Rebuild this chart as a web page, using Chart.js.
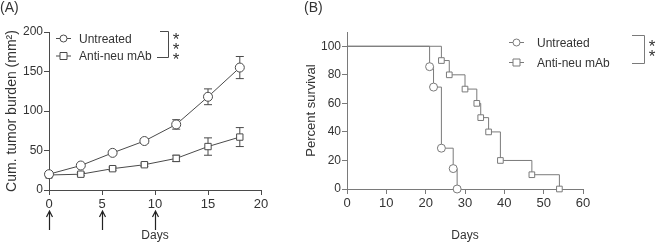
<!DOCTYPE html>
<html>
<head>
<meta charset="utf-8">
<script src="https://cdn.jsdelivr.net/npm/chart.js@4.4.1/dist/chart.umd.min.js"></script>
<style>
  html, body { margin: 0; padding: 0; background: #fff; }
  body { width: 656px; height: 244px; position: relative; overflow: hidden; font-family: "Liberation Sans", Arial, sans-serif; }
  .panel { position: absolute; top: 0; }
  .lbl { position: absolute; top: -1px; font-size: 14px; color: #333; font-family: "Liberation Sans", Arial, sans-serif; }
</style>
</head>
<body>
<div class="panel" style="left:0;width:280px;height:244px;"><canvas id="cA" width="280" height="244"></canvas></div>
<div class="panel" style="left:280px;width:376px;height:244px;"><canvas id="cB" width="376" height="244"></canvas></div>
<div class="lbl" style="left:0px;">(A)</div>
<div class="lbl" style="left:304px;">(B)</div>
<script>
// ---------- Panel A data ----------
const aDays = [0, 3, 6, 9, 12, 15, 18];
const aUntreated = [20, 31, 47, 62, 83, 118, 155];
const aUntreatedErr = [2, 2, 2, 3, 6, 10, 14];
const aAnti = [19, 20, 27, 32, 40, 55, 67];
const aAntiErr = [2, 2, 2, 2, 4, 11, 12];
const aArrowDays = [0, 5, 10];
const aSeriesNames = ['Untreated', 'Anti-neu mAb'];
const aSignif = '***';

// ---------- Panel B data ----------
const bUntreatedDays = [0, 21, 22, 24, 27, 28];
const bUntreatedSurv = [100, 85.7, 71.4, 28.6, 14.3, 0];
const bAntiDays = [0, 24, 26, 30, 33, 34, 36, 39, 47, 54];
const bAntiSurv = [100, 90, 80, 70, 60, 50, 40, 20, 10, 0];
const bSeriesNames = ['Untreated', 'Anti-neu mAb'];
const bSignif = '**';

const FONT = '"Liberation Sans", Arial, sans-serif';
const TXT = '#333';
const LINE_A = '#4a4a4a';
const LINE_B = '#7a7a7a';

function pts(xs, ys) { return xs.map((x, i) => ({ x: x, y: ys[i] })); }

function drawMarker(ctx, style, x, y, r, color) {
  ctx.save();
  ctx.fillStyle = '#fff';
  ctx.strokeStyle = color;
  ctx.lineWidth = 1;
  ctx.beginPath();
  if (style === 'circle') ctx.arc(x, y, r, 0, Math.PI * 2);
  else ctx.rect(x - r, y - r, 2 * r, 2 * r);
  ctx.fill();
  ctx.stroke();
  ctx.restore();
}

function drawStars(ctx, str, x, yCenter, step, color) {
  ctx.save();
  ctx.fillStyle = color;
  ctx.font = '17px ' + FONT;
  ctx.textAlign = 'center';
  ctx.textBaseline = 'alphabetic';
  for (let i = 0; i < str.length; i++) {
    ctx.fillText(str[i], x, yCenter + i * step + 10);
  }
  ctx.restore();
}

const errorBars = {
  id: 'errorBars',
  beforeDatasetsDraw(chart) {
    const ctx = chart.ctx;
    chart.data.datasets.forEach((ds, di) => {
      if (!ds.errors) return;
      const meta = chart.getDatasetMeta(di);
      ctx.save();
      ctx.strokeStyle = ds.borderColor;
      ctx.lineWidth = 1;
      meta.data.forEach((el, i) => {
        const v = ds.data[i].y, e = ds.errors[i];
        const yT = chart.scales.y.getPixelForValue(v + e);
        const yB = chart.scales.y.getPixelForValue(v - e);
        const x = el.x;
        ctx.beginPath();
        ctx.moveTo(x, yT); ctx.lineTo(x, yB);
        ctx.moveTo(x - 4, yT); ctx.lineTo(x + 4, yT);
        ctx.moveTo(x - 4, yB); ctx.lineTo(x + 4, yB);
        ctx.stroke();
      });
      ctx.restore();
    });
  }
};

const extrasA = {
  id: 'extrasA',
  afterDraw(chart) {
    const ctx = chart.ctx;
    const xs = chart.scales.x;
    ctx.save();
    ctx.strokeStyle = '#222';
    ctx.lineWidth = 1.2;
    aArrowDays.forEach(d => {
      const x = Math.round(xs.getPixelForValue(d)) + 0.5;
      ctx.beginPath();
      ctx.moveTo(x, 230); ctx.lineTo(x, 212);
      ctx.moveTo(x - 3, 217); ctx.lineTo(x, 211); ctx.lineTo(x + 3, 217);
      ctx.stroke();
    });
    ctx.font = '12px ' + FONT;
    ctx.fillStyle = TXT;
    ctx.textBaseline = 'middle';
    const rows = [[38.5, 'circle'], [56, 'rect']];
    rows.forEach((r, i) => {
      ctx.strokeStyle = LINE_A;
      ctx.lineWidth = 1;
      ctx.beginPath(); ctx.moveTo(56, r[0]); ctx.lineTo(71, r[0]); ctx.stroke();
      drawMarker(ctx, r[1], 63.5, r[0], 3.5, LINE_A);
      ctx.fillText(aSeriesNames[i], 79, r[0] + 1);
    });
    ctx.strokeStyle = LINE_A;
    ctx.beginPath();
    ctx.moveTo(160, 31.5); ctx.lineTo(168.5, 31.5); ctx.lineTo(168.5, 57.5); ctx.lineTo(157, 57.5);
    ctx.stroke();
    ctx.restore();
    drawStars(ctx, aSignif, 176, 35, 10, TXT);
  }
};

const extrasB = {
  id: 'extrasB',
  afterDraw(chart) {
    const ctx = chart.ctx;
    ctx.save();
    ctx.font = '12px ' + FONT;
    ctx.fillStyle = TXT;
    ctx.textBaseline = 'middle';
    const rows = [[42.5, 'circle'], [62.5, 'rect']];
    rows.forEach((r, i) => {
      ctx.strokeStyle = LINE_B;
      ctx.lineWidth = 1;
      ctx.beginPath(); ctx.moveTo(229, r[0]); ctx.lineTo(244, r[0]); ctx.stroke();
      drawMarker(ctx, r[1], 236.5, r[0], 3.5, LINE_B);
      ctx.fillText(bSeriesNames[i], 257, r[0] + 1);
    });
    ctx.strokeStyle = LINE_B;
    ctx.beginPath();
    ctx.moveTo(352, 35.5); ctx.lineTo(364.5, 35.5); ctx.lineTo(364.5, 63.5); ctx.lineTo(352, 63.5);
    ctx.stroke();
    ctx.restore();
    drawStars(ctx, bSignif, 372, 42, 10, TXT);
  }
};

function axisCommon(color, fontSize) {
  return {
    grid: { display: true, drawOnChartArea: false, drawTicks: true, tickLength: 5, color: color, lineWidth: 1 },
    border: { display: true, color: color, width: 1 },
    ticks: { color: TXT, font: { family: FONT, size: fontSize }, padding: 1 }
  };
}

Chart.defaults.font.family = FONT;
Chart.defaults.animation = false;

// ---------- Chart A ----------
const axA_x = axisCommon(LINE_A, 13);
const axA_y = axisCommon(LINE_A, 12);
new Chart(document.getElementById('cA'), {
  type: 'scatter',
  data: {
    datasets: [
      { label: aSeriesNames[0], data: pts(aDays, aUntreated), errors: aUntreatedErr, showLine: true, clip: false,
        borderColor: LINE_A, borderWidth: 1, pointStyle: 'circle', pointRadius: 4.5, pointBackgroundColor: '#fff', pointBorderColor: LINE_A, pointBorderWidth: 1 },
      { label: aSeriesNames[1], data: pts(aDays, aAnti), errors: aAntiErr, showLine: true, clip: false,
        borderColor: LINE_A, borderWidth: 1, pointStyle: 'rect', pointRadius: 4.5, pointBackgroundColor: '#fff', pointBorderColor: LINE_A, pointBorderWidth: 1 }
    ]
  },
  options: {
    responsive: false,
    layout: { padding: { top: 32, right: 19, left: 0, bottom: 0 } },
    plugins: { legend: { display: false }, tooltip: { enabled: false } },
    scales: {
      x: Object.assign(axA_x, { type: 'linear', min: 0, max: 20,
        ticks: Object.assign(axA_x.ticks, { stepSize: 5, padding: 2 }),
        title: { display: true, text: 'Days', color: TXT, font: { family: FONT, size: 12 }, padding: { top: 0, bottom: 1 } },
        afterFit(s) { s.height = 54; } }),
      y: Object.assign(axA_y, { type: 'linear', min: 0, max: 200,
        ticks: Object.assign(axA_y.ticks, { stepSize: 50 }),
        title: { display: true, text: 'Cum. tumor burden (mm²)', color: TXT, font: { family: FONT, size: 14 }, padding: { top: 4, bottom: 0 } },
        afterFit(s) { s.width = 49; } })
    }
  },
  plugins: [errorBars, extrasA]
});

// ---------- Chart B ----------
const axB_x = axisCommon(LINE_B, 13);
const axB_y = axisCommon(LINE_B, 12);
new Chart(document.getElementById('cB'), {
  type: 'scatter',
  data: {
    datasets: [
      { label: bSeriesNames[0], data: pts(bUntreatedDays, bUntreatedSurv), showLine: true, stepped: 'before', clip: false,
        borderColor: LINE_B, borderWidth: 1, pointStyle: 'circle',
        pointRadius: c => c.dataIndex === 0 ? 0 : 4, pointBackgroundColor: '#fff', pointBorderColor: LINE_B, pointBorderWidth: 1 },
      { label: bSeriesNames[1], data: pts(bAntiDays, bAntiSurv), showLine: true, stepped: 'before', clip: false,
        borderColor: LINE_B, borderWidth: 1, pointStyle: 'rect',
        pointRadius: c => c.dataIndex === 0 ? 0 : 4, pointBackgroundColor: '#fff', pointBorderColor: LINE_B, pointBorderWidth: 1 }
    ]
  },
  options: {
    responsive: false,
    layout: { padding: { top: 32, right: 73, left: 0, bottom: 0 } },
    plugins: { legend: { display: false }, tooltip: { enabled: false } },
    scales: {
      x: Object.assign(axB_x, { type: 'linear', min: 0, max: 60,
        ticks: Object.assign(axB_x.ticks, { stepSize: 10, padding: 2 }),
        title: { display: true, text: 'Days', color: TXT, font: { family: FONT, size: 12 }, padding: { top: 0, bottom: 1 } },
        afterFit(s) { s.height = 55; } }),
      y: Object.assign(axB_y, { type: 'linear', min: 0, max: 110,
        ticks: Object.assign(axB_y.ticks, { stepSize: 20 }),
        afterBuildTicks(s) { s.ticks = s.ticks.filter(t => t.value <= 100); },
        title: { display: true, text: 'Percent survival', color: TXT, font: { family: FONT, size: 13 }, padding: { top: 24, bottom: 0 } },
        afterFit(s) { s.width = 67; } })
    }
  },
  plugins: [extrasB]
});
</script>
</body>
</html>
